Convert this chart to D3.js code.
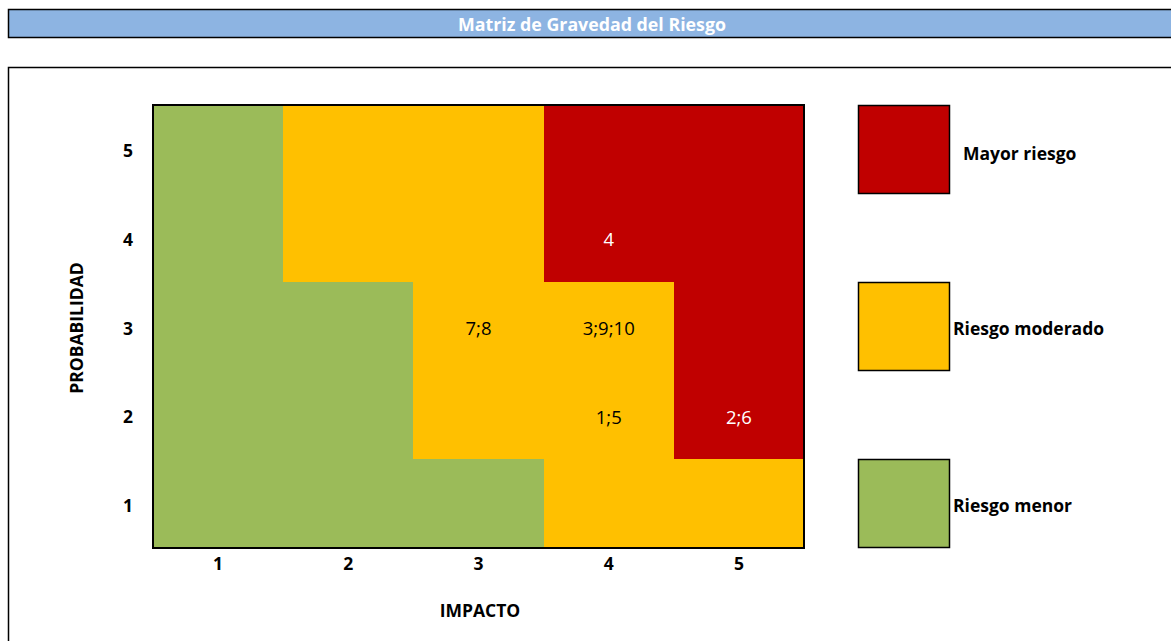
<!DOCTYPE html>
<html><head><meta charset="utf-8">
<script src="https://cdn.jsdelivr.net/npm/d3@7"></script>
<style>html,body{margin:0;padding:0;background:#fff;overflow:hidden}</style>
</head><body>
<svg id="c" width="1171" height="641"></svg>
<script>
const title = "Matriz de Gravedad del Riesgo";
const impacto = [1, 2, 3, 4, 5];
const probabilidad = [1, 2, 3, 4, 5];
// risk level per row (probabilidad 5 → 1), columns impacto 1 → 5; 0 menor, 1 moderado, 2 mayor
const riskRows = [
  [0, 1, 1, 2, 2],
  [0, 1, 1, 2, 2],
  [0, 0, 1, 1, 2],
  [0, 0, 1, 1, 2],
  [0, 0, 0, 1, 1]
];
const cellLabels = [
  {impacto: 3, prob: 3, text: "7;8"},
  {impacto: 4, prob: 3, text: "3;9;10"},
  {impacto: 4, prob: 4, text: "4"},
  {impacto: 4, prob: 2, text: "1;5"},
  {impacto: 5, prob: 2, text: "2;6"}
];
const legendNames = ["Mayor riesgo", "Riesgo moderado", "Riesgo menor"];
const legendLevels = [2, 1, 0];
const levelColors = ["#9BBB59", "#FFC000", "#C00000"];
const levelText = ["#000", "#000", "#fff"];

const svg = d3.select("#c");
const font = "'Open Sans', 'Noto Sans', sans-serif";
const BOLD = 17.5, REG = 18.5;

// title bar
svg.append("rect").attr("x", 8.5).attr("y", 9.5).attr("width", 1180).attr("height", 28)
  .attr("fill", "#8DB4E2").attr("stroke", "#000").attr("stroke-width", 1.5);
svg.append("text").attr("x", 592).attr("y", 24).attr("text-anchor", "middle")
  .attr("dominant-baseline", "central").attr("fill", "#fff").attr("font-family", font)
  .attr("font-weight", "bold").attr("font-size", 17.8).text(title);

// chart box
svg.append("rect").attr("x", 8.5).attr("y", 67.5).attr("width", 1180).attr("height", 600)
  .attr("fill", "#fff").attr("stroke", "#000").attr("stroke-width", 1.5);

const L = 153, R = 804, T = 105, B = 548;
const x = d3.scaleBand().domain(impacto).range([L, R]);
const y = d3.scaleBand().domain(probabilidad.slice().reverse()).range([T, B]);

const cells = [];
riskRows.forEach((row, i) => row.forEach((lvl, j) => {
  cells.push({prob: probabilidad[probabilidad.length - 1 - i], impacto: impacto[j], lvl});
}));
svg.append("g").attr("shape-rendering", "crispEdges").selectAll("rect").data(cells).join("rect")
  .attr("x", d => Math.round(x(d.impacto))).attr("y", d => Math.round(y(d.prob)))
  .attr("width", d => Math.round(x(d.impacto) + x.bandwidth()) - Math.round(x(d.impacto)) + 1)
  .attr("height", d => Math.round(y(d.prob) + y.bandwidth()) - Math.round(y(d.prob)) + 1)
  .attr("fill", d => levelColors[d.lvl]);
svg.append("rect").attr("x", L).attr("y", T).attr("width", R - L).attr("height", B - T)
  .attr("fill", "none").attr("stroke", "#000").attr("stroke-width", 2);

// cell labels
svg.append("g").selectAll("text").data(cellLabels).join("text")
  .attr("x", d => x(d.impacto) + x.bandwidth() / 2)
  .attr("y", d => y(d.prob) + y.bandwidth() / 2 + 1)
  .attr("text-anchor", "middle").attr("dominant-baseline", "central")
  .attr("font-family", font).attr("font-size", REG)
  .attr("fill", d => {
    const lvl = riskRows[probabilidad.length - d.prob][impacto.indexOf(d.impacto)];
    return levelText[lvl];
  })
  .text(d => d.text);

// axes
const xAxis = svg.append("g").attr("transform", `translate(0,${B})`)
  .call(d3.axisBottom(x).tickSize(0).tickPadding(18));
const yAxis = svg.append("g").attr("transform", `translate(${L},2)`)
  .call(d3.axisLeft(y).tickSize(0).tickPadding(20));
[xAxis, yAxis].forEach(a => {
  a.select(".domain").remove();
  a.selectAll("text").attr("font-family", font).attr("font-size", BOLD)
    .attr("font-weight", "bold").attr("fill", "#000");
});
xAxis.selectAll("text").attr("dy", "0.2em");
yAxis.selectAll("text").attr("dy", "0.35em");

svg.append("text").attr("x", 480).attr("y", 610).attr("text-anchor", "middle")
  .attr("dominant-baseline", "central").attr("font-family", font).attr("font-size", BOLD)
  .attr("font-weight", "bold").text("IMPACTO");
svg.append("text").attr("transform", "translate(76,328) rotate(-90)").attr("text-anchor", "middle")
  .attr("dominant-baseline", "central").attr("font-family", font).attr("font-size", BOLD)
  .attr("font-weight", "bold").text("PROBABILIDAD");

// legend
const ly = d3.scalePoint().domain(legendNames).range([150, 504]);
const lg = svg.append("g").selectAll("g").data(legendNames).join("g");
lg.append("rect").attr("x", 858.5).attr("y", d => ly(d) - 44.5)
  .attr("width", 91).attr("height", 88)
  .attr("fill", (d, i) => levelColors[legendLevels[i]]).attr("stroke", "#000").attr("stroke-width", 1.5);
lg.append("text").attr("x", (d, i) => i === 0 ? 963 : 953).attr("y", (d, i) => ly(d) + (i === 0 ? 3 : 1))
  .attr("dominant-baseline", "central").attr("font-family", font).attr("font-size", BOLD)
  .attr("font-weight", "bold").attr("fill", "#000").text(d => d);
</script>
</body></html>
